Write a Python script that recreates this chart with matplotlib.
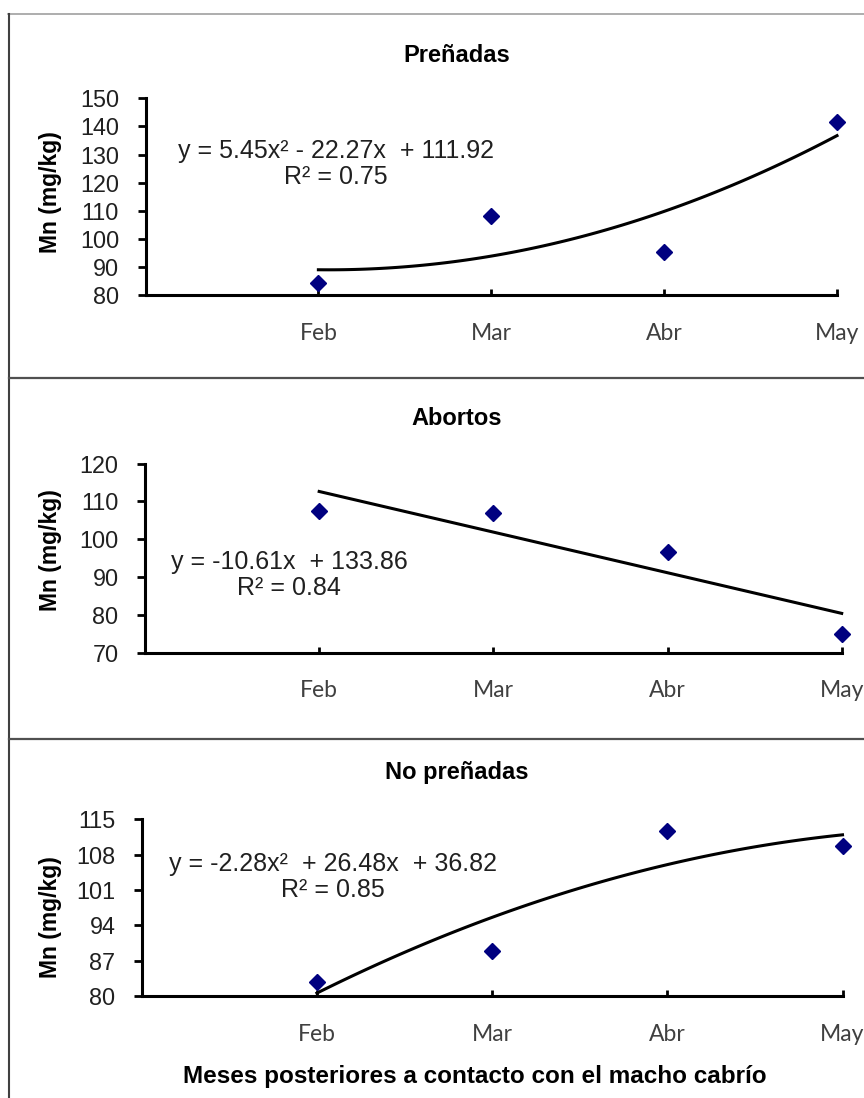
import numpy as np
import matplotlib.pyplot as plt
from matplotlib.lines import Line2D

# Data
months = ['Feb', 'Mar', 'Abr', 'May']
month_idx = [1, 2, 3, 4]

prenadas = [84.2, 108.2, 95.4, 141.5]
abortos = [107.4, 106.9, 96.6, 75.0]
no_prenadas = [82.8, 88.9, 112.7, 109.7]

titles = ['Preñadas', 'Abortos', 'No preñadas']
fit_degree = [2, 1, 2]
equations = ['y = 5.45x² - 22.27x  + 111.92\nR² = 0.75',
             'y = -10.61x  + 133.86\nR² = 0.84',
             'y = -2.28x²  + 26.48x  + 36.82\nR² = 0.85']
ylims = [(80, 150), (70, 120), (80, 115)]
yticks = [[80, 90, 100, 110, 120, 130, 140, 150],
          [70, 80, 90, 100, 110, 120],
          [80, 87, 94, 101, 108, 115]]

W, H = 864, 1098
fig = plt.figure(figsize=(W / 100, H / 100), dpi=100)


def fx(px):
    return px / W


def fy(py):
    return 1 - py / H


# axes boxes in pixels: left, right, top, bottom
boxes = [(145.5, 837, 98.3, 295), (145, 841.7, 463.5, 652.5), (141.7, 842.5, 819.3, 996)]
title_y = [55, 418, 773]
ylabel_y = [192, 550, 917]
eq_pos = [(336, 164), (289, 575), (333, 877)]

arial = ['Liberation Sans', 'DejaVu Sans']

series = [prenadas, abortos, no_prenadas]
for i, vals in enumerate(series):
    l, r, t, b = boxes[i]
    ax = fig.add_axes([fx(l), fy(b), (r - l) / W, (b - t) / H])
    ax.set_xlim(0, 4)
    ax.set_ylim(*ylims[i])
    ax.set_yticks(yticks[i])
    ax.set_xticks(month_idx)
    ax.set_xticklabels(months, family=['Lato', 'DejaVu Sans'], fontsize=16.5, color='#404040')
    ax.set_yticklabels([str(v) for v in yticks[i]], family=arial, fontsize=16.8, color='#202020')
    for s in ['top', 'right']:
        ax.spines[s].set_visible(False)
    for s in ['left', 'bottom']:
        ax.spines[s].set_linewidth(2.2)
        ax.spines[s].set_color('black')
    ax.tick_params(axis='y', direction='out', length=6, width=2, pad=13)
    ax.tick_params(axis='x', direction='in', length=4.5, width=2, pad=20)

    # trend line (least squares fit, like Excel)
    coef = np.polyfit(month_idx, vals, fit_degree[i])
    xs = np.linspace(1, 4, 100)
    ax.plot(xs, np.polyval(coef, xs), color='black', lw=2.2, clip_on=False)
    ax.plot(month_idx, vals, linestyle='none', marker='D', markersize=8,
            color='#000080', clip_on=False, zorder=5)

    fig.text(fx(457), fy(title_y[i]), titles[i], ha='center', va='center',
             fontsize=17, fontweight='bold', family=arial)
    fig.text(fx(50), fy(ylabel_y[i]), 'Mn (mg/kg)', ha='center', va='center',
             rotation=90, fontsize=16.5, fontweight='bold', family=arial)
    fig.text(fx(eq_pos[i][0]), fy(eq_pos[i][1]), equations[i], ha='center', va='center',
             fontsize=18, family=arial, color='#202020', linespacing=1.15)

fig.text(fx(475), fy(1077), 'Meses posteriores a contacto con el macho cabrío',
         ha='center', va='center', fontsize=17.5, fontweight='bold', family=arial)

# outer frame and panel separators
fig.add_artist(Line2D([fx(8), 1], [fy(14), fy(14)], color='#a0a0a0', lw=1.2))
fig.add_artist(Line2D([fx(9), fx(9)], [fy(14), 0], color='#404040', lw=1.5))
for sy in [378, 739]:
    fig.add_artist(Line2D([fx(9), 1], [fy(sy), fy(sy)], color='#505050', lw=1.6))

fig.savefig('out.png', dpi=100)
